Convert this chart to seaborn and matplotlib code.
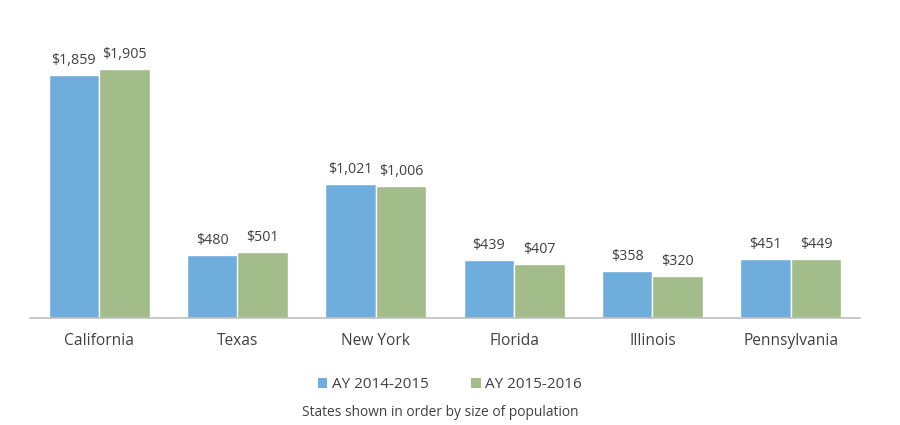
import matplotlib
matplotlib.use("Agg")
import matplotlib.pyplot as plt
import seaborn as sns
import pandas as pd
import numpy as np
from matplotlib.patches import Patch

states = ["California", "Texas", "New York", "Florida", "Illinois", "Pennsylvania"]
ay_2014_2015 = [1859, 480, 1021, 439, 358, 451]
ay_2015_2016 = [1905, 501, 1006, 407, 320, 449]
series_names = ["AY 2014-2015", "AY 2015-2016"]
colors = ["#6FAEDC", "#A3BD8A"]

df = pd.DataFrame({
    "State": states * 2,
    "Value": ay_2014_2015 + ay_2015_2016,
    "Series": [series_names[0]] * len(states) + [series_names[1]] * len(states),
})

sns.set_theme(style="white")
plt.rcParams["font.family"] = ["Open Sans", "DejaVu Sans"]
text_color = "#404040"

fig = plt.figure(figsize=(9, 4.25), dpi=100)
base_y = 317.5
ax = fig.add_axes([30/900, 1 - base_y/425, 830/900, 285/425])

sns.barplot(data=df, x="State", y="Value", hue="Series", palette=colors,
            width=0.73, edgecolor="white", linewidth=1, ax=ax, legend=False,
            saturation=1)

ax.set_ylim(0, 285/0.1305)
ax.set_xlim(-0.5, len(states) - 0.5)
ax.set_xlabel("")
ax.set_ylabel("")
ax.set_yticks([])
for s in ["top", "right", "left"]:
    ax.spines[s].set_visible(False)
ax.spines["bottom"].set_color("#BFBFBF")
ax.spines["bottom"].set_linewidth(1.2)

ax.set_xticks(range(len(states)))
ax.set_xticklabels(states, fontsize=11.2, color=text_color)
ax.tick_params(axis="x", which="major", length=0, pad=11)
ax.set_xticks(np.arange(-0.5, len(states), 1.0), minor=True)
ax.tick_params(axis="x", which="minor", length=5, color="#BFBFBF", width=1, direction="in")

for cont in ax.containers:
    ax.bar_label(cont, labels=[f"${v:,.0f}" for v in cont.datavalues],
                 padding=5, fontsize=10.3, color=text_color)

handles = [Patch(facecolor=c, edgecolor="none") for c in colors]
fig.legend(handles, series_names, loc="center", bbox_to_anchor=(450/900, 1 - 385/425),
           ncol=2, frameon=False, fontsize=11, handlelength=0.6, handleheight=0.6,
           columnspacing=2.8, handletextpad=0.3, labelcolor=text_color)

fig.text(440/900, 1 - 413/425, "States shown in order by size of population",
         ha="center", va="center", fontsize=9.9, color=text_color)

fig.savefig("out.png", dpi=100)
